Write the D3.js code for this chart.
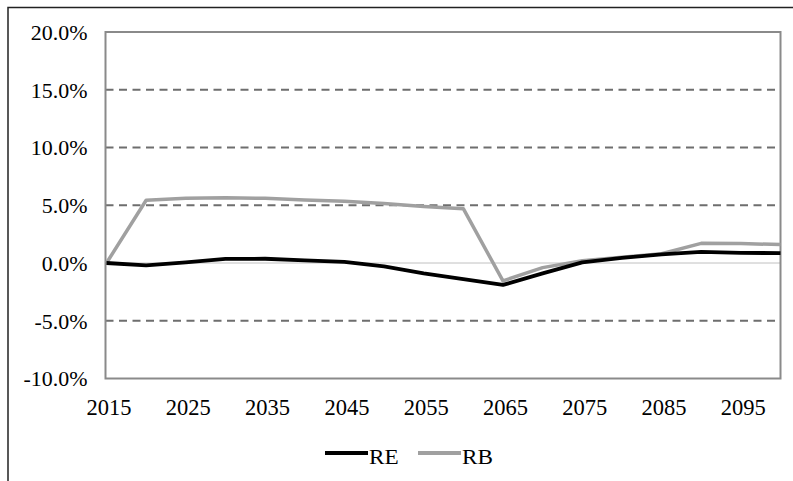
<!DOCTYPE html>
<html><head><meta charset="utf-8">
<script src="https://cdn.jsdelivr.net/npm/d3@7"></script>
<style>body{margin:0;background:#fff}svg{display:block}
svg text{font-family:"Liberation Serif","Times New Roman",Times,serif !important;}</style>
</head><body>
<script>
const years = [2015,2020,2025,2030,2035,2040,2045,2050,2055,2060,2065,2070,2075,2080,2085,2090,2095,2100];
const reValues = [0.0,-0.2,0.05,0.35,0.37,0.23,0.1,-0.3,-0.9,-1.4,-1.9,-0.9,0.05,0.45,0.75,0.97,0.87,0.86];
const rbValues = [0.0,5.43,5.6,5.66,5.6,5.45,5.35,5.15,4.9,4.7,-1.55,-0.4,0.2,0.5,0.8,1.7,1.68,1.6];
const yTicks = [-10,-5,0,5,10,15,20];
const xLabelYears = [2015,2025,2035,2045,2055,2065,2075,2085,2095];
const seriesNames = ["RE","RB"];

const W = 793, H = 481;
const svg = d3.select("body").append("svg").attr("width",W).attr("height",H);
const sx = 1.1;

// outer frame (cropped)
svg.append("path").attr("d","M8,481 L8,7.5 L793,7.5").attr("fill","none").attr("stroke","#222").attr("stroke-width",1.5);

const L = 105.5, R = 780.5, T = 32, B = 378.5;
const x = d3.scalePoint().domain(years).range([L+1, R]);
const y = d3.scaleLinear().domain([-10,20]).range([B,T]);

// gridlines
svg.append("g").selectAll("line").data(yTicks.filter(d=>d!==0 && d!==-10 && d!==20)).join("line")
  .attr("x1",L).attr("x2",R).attr("y1",d=>y(d)).attr("y2",d=>y(d))
  .attr("stroke","#6e6e6e").attr("stroke-width",2).attr("stroke-dasharray","8,5.5");
// zero line
svg.append("line").attr("x1",L).attr("x2",R).attr("y1",y(0)).attr("y2",y(0))
  .attr("stroke","#c0c0c0").attr("stroke-width",1);
// plot frame
svg.append("rect").attr("x",L).attr("y",T).attr("width",R-L).attr("height",B-T)
  .attr("fill","none").attr("stroke","#8a8a8a").attr("stroke-width",2);

// y axis labels
const yAxis = d3.axisLeft(y).tickValues(yTicks).tickSize(0).tickPadding(0)
  .tickFormat(d=>d3.format(".1f")(d).replace("\u2212","-")+"%");
const gy = svg.append("g").attr("transform",`translate(${L-18},0)`).call(yAxis);
gy.select(".domain").remove();
gy.attr("font-family",null);
gy.selectAll("text").attr("font-size",20.5).attr("fill","#000")
  .attr("x",0).attr("dy","0.36em").attr("transform",`scale(1.07,1)`);

// x axis labels
const xAxis = d3.axisBottom(x).tickValues(xLabelYears).tickSize(0).tickPadding(0);
const gx = svg.append("g").attr("transform",`translate(2,${B+36})`).call(xAxis);
gx.select(".domain").remove();
gx.attr("font-family",null);
gx.selectAll("text").attr("font-size",22.5).attr("fill","#000")
  .attr("x",0).attr("y",0).attr("dy",0);

// lines
const line = d3.line().x((d,i)=>x(years[i])).y(d=>y(d));
svg.append("path").datum(rbValues).attr("d",line).attr("fill","none")
  .attr("stroke","#a0a0a0").attr("stroke-width",3.5).attr("stroke-linejoin","round");
svg.append("path").datum(reValues).attr("d",line).attr("fill","none")
  .attr("stroke","#000").attr("stroke-width",3.8).attr("stroke-linejoin","round");

// legend
const legend = [{name:seriesNames[0],color:"#000",x0:325},{name:seriesNames[1],color:"#a0a0a0",x0:418}];
const lg = svg.append("g");
legend.forEach(d=>{
  lg.append("line").attr("x1",d.x0).attr("x2",d.x0+43).attr("y1",453).attr("y2",453)
    .attr("stroke",d.color).attr("stroke-width",4);
  lg.append("text").attr("transform",`translate(${d.x0+44},463.5) scale(1.08,1)`)
    .attr("font-size",21.5).attr("fill","#000").text(d.name);
});
</script>
</body></html>
